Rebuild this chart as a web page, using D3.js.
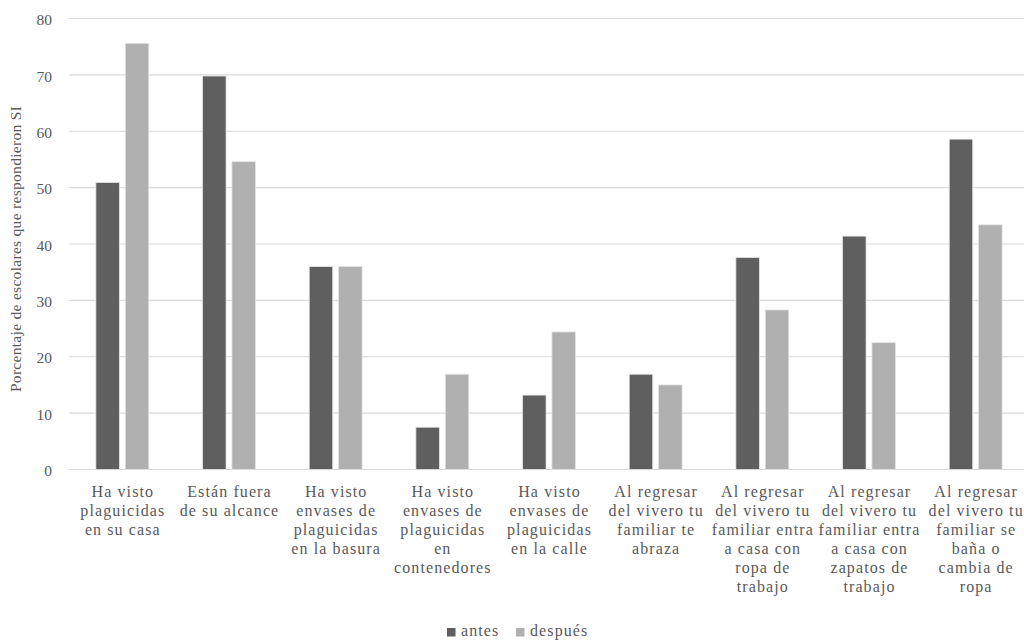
<!DOCTYPE html>
<html>
<head>
<meta charset="utf-8">
<script src="https://cdn.jsdelivr.net/npm/d3@7"></script>
<style>
  html, body { margin: 0; padding: 0; background: #fff; }
  svg { display: block; }
  svg text { font-family: "Liberation Serif", "DejaVu Serif", serif; }
</style>
</head>
<body>
<svg id="chart" width="1024" height="640"></svg>
<script>
// Categories (each label split into its printed lines)
const categories = [
  ["Ha visto", "plaguicidas", "en su casa"],
  ["Están fuera", "de su alcance"],
  ["Ha visto", "envases de", "plaguicidas", "en la basura"],
  ["Ha visto", "envases de", "plaguicidas", "en", "contenedores"],
  ["Ha visto", "envases de", "plaguicidas", "en la calle"],
  ["Al regresar", "del vivero tu", "familiar te", "abraza"],
  ["Al regresar", "del vivero tu", "familiar entra", "a casa con", "ropa de", "trabajo"],
  ["Al regresar", "del vivero tu", "familiar entra", "a casa con", "zapatos de", "trabajo"],
  ["Al regresar", "del vivero tu", "familiar se", "baña o", "cambia de", "ropa"]
];
const seriesNames = ["antes", "después"];
const antes   = [50.9, 69.8, 36.0, 7.5, 13.2, 16.9, 37.6, 41.4, 58.6];
const despues = [75.6, 54.6, 36.0, 16.9, 24.4, 15.0, 28.3, 22.5, 43.4];
const yTicks  = [0, 10, 20, 30, 40, 50, 60, 70, 80];
const yTitle  = "Porcentaje de escolares que respondieron SI";

const colors = ["#5f5f5f", "#b0b0b0"];
const textColor = "#595959";

const svg = d3.select("#chart");
const plotLeft = 69, plotTop = 18.5, plotBottom = 469.5, plotW = 960;

const x = d3.scaleBand().domain(d3.range(categories.length)).range([plotLeft, plotLeft + plotW]).padding(0);
const y = d3.scaleLinear().domain([0, 80]).range([plotBottom, plotTop]);

// Gridlines
svg.append("g").selectAll("line").data(yTicks).join("line")
  .attr("x1", plotLeft).attr("x2", plotLeft + plotW)
  .attr("y1", d => y(d)).attr("y2", d => y(d))
  .attr("stroke", "#d9d9d9").attr("stroke-width", 1.2);

// Y axis tick labels
const yAxis = d3.axisLeft(y).tickValues(yTicks).tickSize(0).tickPadding(0);
const gy = svg.append("g").attr("transform", `translate(52,0)`).call(yAxis);
gy.select(".domain").remove();
gy.attr("font-family", null);
gy.selectAll("text")
  .attr("font-size", 15.5).attr("fill", textColor).attr("dy", "0.4em");

// Y axis title
svg.append("text")
  .attr("transform", `translate(21,249) rotate(-90)`)
  .attr("text-anchor", "middle")
  .attr("font-size", 15.5).attr("letter-spacing", 0.3).attr("fill", textColor)
  .text(yTitle);

// Bars
const inner = d3.scaleBand().domain([0, 1]).range([0, x.bandwidth()]).paddingInner(0.2).paddingOuter(0.915);
const rows = categories.map((c, i) => [antes[i], despues[i]]);
const groups = svg.append("g").selectAll("g").data(rows).join("g")
  .attr("transform", (d, i) => `translate(${x(i)},0)`);
groups.selectAll("rect").data(d => d.map((v, s) => ({ v, s }))).join("rect")
  .attr("x", d => inner(d.s))
  .attr("width", inner.bandwidth())
  .attr("y", d => y(d.v))
  .attr("height", d => y(0) - y(d.v))
  .attr("fill", d => colors[d.s])
  .attr("stroke", "#e4e4e4").attr("stroke-width", 0.8);

// Category labels
const lab = svg.append("g").selectAll("text").data(categories).join("text")
  .attr("text-anchor", "middle")
  .attr("font-size", 16).attr("letter-spacing", 1.1).attr("fill", textColor)
  .attr("x", (d, i) => x(i) + x.bandwidth() / 2 + 0.5)
  .attr("y", 497);
lab.selectAll("tspan").data(d => d).join("tspan")
  .attr("x", function () { return d3.select(this.parentNode).attr("x"); })
  .attr("dy", (d, i) => i === 0 ? 0 : 18.9)
  .text(d => d);

// Legend
const legend = svg.append("g").attr("transform", "translate(447,636)");
const lx = [0, 69];
seriesNames.forEach((name, i) => {
  legend.append("rect")
    .attr("x", lx[i]).attr("y", -8).attr("width", 8.5).attr("height", 8.5)
    .attr("fill", colors[i]);
  legend.append("text")
    .attr("x", lx[i] + 14).attr("y", 0)
    .attr("font-size", 16).attr("letter-spacing", 1.1).attr("fill", textColor)
    .text(name);
});
</script>
</body>
</html>
